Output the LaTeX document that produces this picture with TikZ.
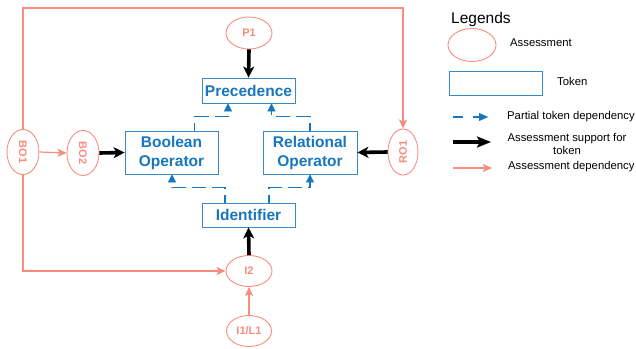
\documentclass[tikz,border=0pt]{standalone}
\usepackage{fontspec}
\setmainfont{Liberation Sans}
\usetikzlibrary{shapes.geometric,arrows.meta}
\definecolor{salmon}{RGB}{250,140,126}
\definecolor{tokblue}{RGB}{22,119,188}
\begin{document}
\begin{tikzpicture}[x=1pt,y=-1pt,
  assess/.style={ellipse,draw=salmon,line width=0.9pt,inner sep=0pt,text=salmon,
    font=\fontsize{11}{13}\selectfont\bfseries},
  token/.style={rectangle,draw=tokblue!85,line width=0.85pt,inner sep=0pt,text=tokblue,
    align=center,font=\fontsize{15.5}{19}\selectfont\bfseries},
  support/.style={line width=3.6pt,-{Stealth[length=11pt,width=11pt,inset=3pt]}},
  adep/.style={draw=salmon,line width=1.2pt,-{Stealth[length=9pt,width=8pt,inset=2pt]}},
  partial/.style={draw=tokblue,line width=1.4pt,dash pattern=on 14pt off 6pt,dash phase=6pt,
    -{Triangle[line width=0.01pt,length=8pt,width=8pt]}},
  legtext/.style={font=\fontsize{11.3}{13}\selectfont,inner sep=0pt}
]
\useasboundingbox (0,0) rectangle (636,348);
% assessments
\node[assess,minimum width=46pt,minimum height=32pt] (p1) at (249,33) {P1};
\node[assess,minimum width=32pt,minimum height=45pt] (bo1) at (23,152) {\rotatebox{-90}{BO1}};
\node[assess,minimum width=32pt,minimum height=45pt] (bo2) at (83,153) {\rotatebox{-90}{BO2}};
\node[assess,minimum width=30pt,minimum height=46pt] (ro1) at (403,152) {\rotatebox{90}{RO1}};
\node[assess,minimum width=46pt,minimum height=31pt] (i2) at (249,271) {I2};
\node[assess,minimum width=45pt,minimum height=31pt] (i1) at (249,331) {I1/L1};
% tokens
\node[token,minimum width=93pt,minimum height=25pt] (prec) at (248.5,90.5) {Precedence};
\node[token,minimum width=93pt,minimum height=43pt] (bool) at (171.5,152.5) {Boolean\\Operator};
\node[token,minimum width=94pt,minimum height=43pt] (rel) at (310,152.5) {Relational\\Operator};
\node[token,minimum width=93pt,minimum height=24pt] (ident) at (248.5,215) {Identifier};
% support arrows
\draw[support] (p1.south) -- (prec.north);
\draw[support] (bo2.east) -- (bool.west);
\draw[support] (ro1.west) -- (rel.east);
\draw[support] (i2.north) -- (ident.south);
% assessment dependencies
\coordinate (topline) at (0,8);
\draw[adep] (bo1.east) -- (bo2.west);
\draw[adep] (i1.north) -- (i2.south);
\draw[adep] (bo1.north) -- (bo1.north |- topline) -| (ro1.north);
\draw[adep] (bo1.south) |- (i2.west);
% partial token dependencies
\draw[partial] ([xshift=23pt]bool.north) -- ++(0,-14) -| ([xshift=-20.5pt]prec.south);
\draw[partial] (rel.north) -- ++(0,-14) -| ([xshift=23pt]prec.south);
\draw[partial] ([xshift=-23.5pt]ident.north) -- ++(0,-15) -| ([xshift=0.5pt]bool.south);
\draw[partial] ([xshift=20.5pt]ident.north) -- ++(0,-15) -| (rel.south);
% legend
\node[inner sep=0pt,anchor=west,font=\fontsize{15.5}{18}\selectfont] (legt) at (451,19) {Legends};
\node[ellipse,draw=salmon,line width=0.9pt,minimum width=48pt,minimum height=33pt,inner sep=0pt] (lass) at (472,45) {};
\node[legtext,anchor=west] (lasst) at (510,43) {Assessment};
\node[rectangle,draw=tokblue!85,line width=0.85pt,minimum width=93pt,minimum height=24pt,inner sep=0pt] (ltok) at (495.5,83) {};
\node[legtext,anchor=west] (ltokt) at (557,81) {Token};
\coordinate (lp1) at (453,117); \coordinate (lp2) at (488,117);
\draw[draw=tokblue,line width=1.4pt,dash pattern=on 10pt off 10pt,-{Triangle[line width=0.01pt,length=9pt,width=8pt]}] (lp1) -- (lp2);
\node[legtext,anchor=west] (lpt) at (507,117) {Partial token dependency};
\coordinate (ls1) at (453,142); \coordinate (ls2) at (491,142);
\draw[line width=3.6pt,-{Stealth[length=14pt,width=11pt,inset=3pt]}] (ls1) -- (ls2);
\node[legtext,align=center] (lst) at (567,143.5) {Assessment support for\\token};
\coordinate (ld1) at (453,168); \coordinate (ld2) at (492,168);
\draw[adep] (ld1) -- (ld2);
\node[legtext,anchor=west] (ldt) at (508,167) {Assessment dependency};
\end{tikzpicture}
\end{document}
